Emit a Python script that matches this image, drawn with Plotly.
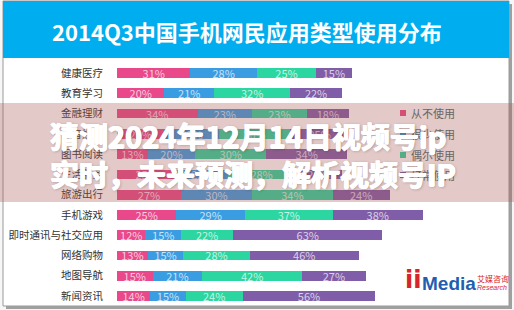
import plotly.graph_objects as go

W, H = 514, 310

categories = ["健康医疗", "教育学习", "金融理财", "影音娱乐", "图书阅读", "生活服务",
              "旅游出行", "手机游戏", "即时通讯与社交应用", "网络购物", "地图导航", "新闻资讯"]
series_names = ["从不使用", "很少使用", "偶尔使用", "经常使用"]
never_use = [31, 20, 34, 20, 13, 25, 27, 25, 12, 13, 15, 14]
rarely_use = [28, 21, 23, 23, 20, 22, 30, 29, 15, 15, 21, 15]
sometimes_use = [25, 32, 23, 30, 30, 28, 34, 37, 22, 28, 42, 24]
often_use = [15, 22, 18, 25, 34, 20, 24, 38, 63, 46, 27, 56]
series_values = [never_use, rarely_use, sometimes_use, often_use]
colors = ["#E9498A", "#3B9DE1", "#2CD6A0", "#7F5DA9"]

title_text = "2014Q3中国手机网民应用类型使用分布"
overlay_lines = ["猜测2024年12月14日视频号ip", "实时，未来预测，解析视频号IP"]

FONT = "Noto Sans CJK SC"


def px(x):
    return x / W


def py(y):
    return 1 - y / H


fig = go.Figure()
for name, vals, col in zip(series_names, series_values, colors):
    fig.add_trace(go.Bar(
        y=categories, x=vals, name=name, orientation="h",
        marker=dict(color=col, line=dict(width=0)),
        texttemplate="%{x}%", textposition="inside", insidetextanchor="middle",
        textangle=0, constraintext="none",
        textfont=dict(color="rgba(255,255,255,0.72)", size=11, family=FONT),
        showlegend=False, hoverinfo="skip",
    ))

x0_px, x1_px = 117, 505
ppu = 2.37
row_top, row_bot = 73 - 10.14, 296 + 10.14

shapes = []
# card shadow + card
shapes.append(dict(type="rect", xref="paper", yref="paper", x0=px(6), x1=px(512), y0=py(309), y1=py(4),
                   fillcolor="rgba(0,0,0,0.35)", line=dict(width=0), layer="below"))
shapes.append(dict(type="rect", xref="paper", yref="paper", x0=px(3), x1=px(509), y0=py(306), y1=py(1),
                   fillcolor="white", line=dict(color="#9a9a9a", width=1), layer="below"))
# header
shapes.append(dict(type="rect", xref="paper", yref="paper", x0=px(3), x1=px(509), y0=py(58), y1=py(1),
                   fillcolor="#00AEEF", line=dict(width=0), layer="below"))

annotations = [dict(text="<b>" + title_text + "</b>", x=px(247), y=py(31), xref="paper", yref="paper",
                    showarrow=False, font=dict(family=FONT, size=22, color="white"),
                    xanchor="center", yanchor="middle")]

# legend (manual)
leg_y = [113, 134, 155, 175]
for name, col, ly in zip(series_names, colors, leg_y):
    shapes.append(dict(type="rect", xref="paper", yref="paper", x0=px(400), x1=px(406),
                       y0=py(ly + 3), y1=py(ly - 3), fillcolor=col, line=dict(width=0)))
    annotations.append(dict(text=name, x=px(409), y=py(ly), xref="paper", yref="paper",
                            showarrow=False, xanchor="left", yanchor="middle",
                            font=dict(family=FONT, size=11, color="#666")))

# logo
annotations.append(dict(text="<b>ii</b>", x=px(403), y=py(280), xref="paper", yref="paper", showarrow=False,
                        xanchor="left", yanchor="middle", font=dict(family="DejaVu Sans", size=24, color="#D7262B")))
annotations.append(dict(text="<b>Media</b>", x=px(420), y=py(283), xref="paper", yref="paper", showarrow=False,
                        xanchor="left", yanchor="middle", font=dict(family="Liberation Sans", size=19, color="#1F5FB0")))
annotations.append(dict(text="艾媒咨询", x=px(475), y=py(278), xref="paper", yref="paper", showarrow=False,
                        xanchor="left", yanchor="middle", font=dict(family=FONT, size=8, color="#D7262B")))
annotations.append(dict(text="<i>Research</i>", x=px(475), y=py(287), xref="paper", yref="paper", showarrow=False,
                        xanchor="left", yanchor="middle", font=dict(family="Liberation Sans", size=7, color="#D7262B")))

# overlay band
shapes.append(dict(type="rect", xref="paper", yref="paper", x0=0, x1=1, y0=py(202), y1=py(103),
                   fillcolor="rgba(170,90,85,0.33)", line=dict(width=0), layer="above"))
for line, ly in zip(overlay_lines, [135, 173]):
    annotations.append(dict(text="<b>" + line + "</b>", x=px(48), y=py(ly), xref="paper", yref="paper",
                            showarrow=False, xanchor="left", yanchor="middle",
                            font=dict(family=FONT, size=29, color="white", weight=900,
                                      shadow="0.7px 0 0 white, -0.7px 0 0 white, 0 0.7px 0 white, 1px 1px 3px rgba(0,0,0,0.3)")))

fig.update_layout(
    width=W, height=H, margin=dict(l=0, r=0, t=0, b=0),
    paper_bgcolor="#f6f6f6", plot_bgcolor="rgba(0,0,0,0)",
    barmode="stack", bargap=0.52,
    xaxis=dict(domain=[px(x0_px), px(x1_px)], range=[0, (x1_px - x0_px) / ppu],
               visible=False, fixedrange=True),
    yaxis=dict(domain=[py(row_bot), py(row_top)], autorange="reversed", type="category",
               showgrid=False, zeroline=False, showline=False,
               ticks="outside", ticklen=11, tickcolor="rgba(0,0,0,0)",
               tickfont=dict(family=FONT, size=10.5, color="#333")),
    shapes=shapes, annotations=annotations,
)

fig.write_html("out.html")
